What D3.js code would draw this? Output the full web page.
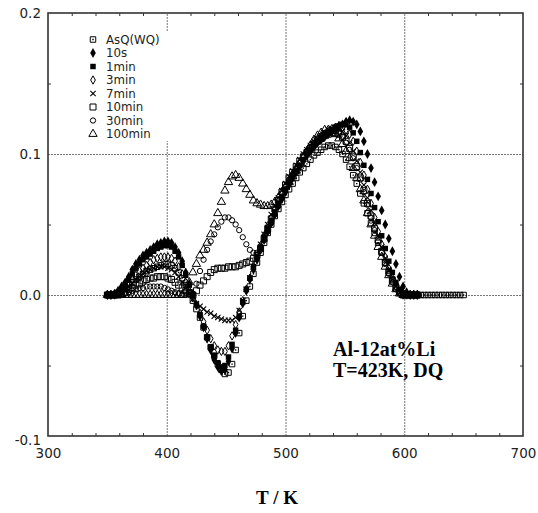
<!DOCTYPE html>
<html><head><meta charset="utf-8">
<script src="https://cdn.jsdelivr.net/npm/d3@7"></script>
<style>body{margin:0;background:#fff}svg{display:block}</style>
</head><body><svg id="chart" width="538" height="513"></svg>
<script>
// ---- data ----
const temps = [350,353,356,359,362,365,368,371,374,377,380,383,386,389,392,395,398,401,404,407,410,413,416,419,422,425,428,431,434,437,440,443,446,449,452,455,458,461,464,467,470,473,476,479,482,485,488,491,494,497,500,503,506,509,512,515,518,521,524,527,530,533,536,539,542,545,548,551,554,557,560,563,566,569,572,575,578,581,584,587,590,593,596,599,602,605,608,611,614,617,620,623,626,629,632,635,638,641,644,647,650];

const seriesNames = ["AsQ(WQ)","10s","1min","3min","7min","10min","30min","100min"];

const asqWQ = [0,0,0,.001,.003,.005,.007,.009,.011,.013,.015,.017,.018,.019,.020,.021,.022,.022,.021,.019,.016,.012,.007,.002,-.004,
 -.010,-.016,-.023,-.030,-.037,-.043,-.049,-.053,-.056,-.055,-.049,-.039,-.027,-.015,-.004,
 .006,.015,.023,.030,.037,.044,.050,.056,.061,.066,.071,.075,.079,.083,.087,.090,.093,.096,.099,.101,.103,.105,.106,.106,.105,.103,.100,.096,.091,.085,.079,.072,.065,.058,.051,.044,.037,.030,.023,.017,.011,.006,.003,.001,0,0,0,0,
 0,0,0,0,0,0,0,0,0,0,0,0,0];

const s10s = [0,0,.001,.003,.006,.009,.013,.018,.022,.025,.028,.030,.032,.034,.036,.037,.038,.038,.037,.034,.030,.024,.016,.008,.001,
 -.007,-.015,-.023,-.031,-.039,-.046,-.051,-.054,-.053,-.047,-.038,-.027,-.016,-.006,.003,
 .011,.018,.025,.032,.039,.045,.051,.057,.063,.068,.073,.078,.083,.087,.091,.095,.099,.102,.105,.108,.110,.112,.114,.116,.118,.120,.121,.123,
 .124,.123,.121,.116,.109,.100,.090,.080,.070,.060,.050,.040,.031,.022,.013,.006,.002,0,0,0];

const s1min = [0,0,0,.002,.004,.007,.011,.015,.019,.022,.025,.027,.029,.031,.033,.034,.035,.035,.034,.031,.027,.021,.014,.007,0,
 -.007,-.014,-.022,-.030,-.037,-.043,-.048,-.051,-.050,-.044,-.035,-.025,-.015,-.005,.004,
 .012,.020,.027,.034,.041,.047,.053,.059,.065,.070,.075,.080,.084,.088,.092,.096,.100,.103,.106,.109,.111,.113,.115,.117,.119,.120,.121,.121,.119,.115,
 .109,.101,.092,.082,.072,.062,.052,.042,.033,.024,.016,.009,.004,.001,0,0,0,0];

const s3min = [0,0,0,.001,.003,.005,.008,.011,.014,.017,.019,.021,.023,.025,.026,.027,.027,.027,.026,.024,.020,.015,.009,.003,-.002,
 -.007,-.013,-.019,-.025,-.031,-.036,-.039,-.040,-.040,-.036,-.029,-.021,-.012,-.004,.004,
 .012,.020,.028,.035,.042,.049,.055,.061,.067,.072,.077,.082,.086,.090,.094,.098,.101,.104,.107,.110,.112,.114,.116,.118,.119,.120,.119,.117,.114,.109,
 .102,.094,.085,.075,.065,.055,.045,.036,.027,.019,.012,.006,.002,0,0,0,0,0];

const s7min = [0,0,0,0,.002,.004,.006,.008,.011,.013,.015,.017,.018,.019,.020,.020,.020,.019,.018,.016,.013,.009,.005,.001,-.003,
 -.006,-.008,-.010,-.012,-.013,-.015,-.016,-.017,-.018,-.018,-.018,-.016,-.011,-.004,.004,
 .012,.020,.028,.036,.043,.050,.057,.063,.069,.074,.079,.084,.088,.092,.096,.100,.103,.106,.109,.111,.113,.115,.117,.118,.119,.118,.116,.113,.108,.102,
 .095,.087,.078,.069,.060,.051,.042,.034,.026,.018,.011,.006,.002,0,0,0,0,0];

const s10min = [0,0,0,0,.001,.002,.004,.005,.007,.008,.010,.011,.012,.012,.013,.013,.013,.012,.011,.009,.007,.005,.003,.001,0,
 .003,.007,.010,.013,.016,.018,.019,.019,.019,.020,.020,.020,.021,.022,.023,
 .024,.026,.028,.033,.040,.047,.054,.061,.067,.073,.078,.083,.087,.091,.095,.098,.101,.104,.107,.109,.111,.113,.114,.115,.115,.114,.112,.109,.104,.098,
 .091,.083,.074,.065,.056,.047,.039,.031,.023,.016,.010,.005,.002,0,0,0,0,0];

const s30min = [0,0,0,0,0,.001,.002,.003,.004,.005,.005,.006,.006,.006,.006,.006,.005,.004,.003,.002,.001,0,0,0,.001,
 .008,.017,.025,.032,.038,.043,.048,.052,.055,.055,.053,.050,.046,.041,.036,
 .032,.030,.030,.033,.039,.045,.051,.057,.063,.069,.075,.080,.085,.090,.094,.098,.102,.105,.108,.111,.113,.115,.116,.117,.116,.115,.112,.108,.103,.097,
 .090,.082,.073,.064,.055,.046,.038,.030,.022,.015,.009,.004,.001,0,0,0,0,0];

const s100min = [0,0,0,0,0,0,0,0,0,0,0,0,0,0,0,0,0,0,0,0,0,0,.003,.009,.016,
 .022,.028,.032,.037,.043,.050,.058,.066,.074,.080,.084,.085,.083,.079,.075,
 .071,.067,.065,.064,.063,.063,.064,.066,.069,.073,.077,.080,.084,.088,.093,.098,.102,.106,.110,.113,.115,.117,.117,.116,.114,.111,.107,.102,.097,.090,
 .083,.075,.067,.058,.050,.042,.034,.027,.020,.014,.008,.004,.001,0,0,0,0,0];

const seriesValues = [asqWQ, s10s, s1min, s3min, s7min, s10min, s30min, s100min];
const markerTypes = ["dotsq","fdiamond","fsquare","odiamond","times","osquare","ocircle","otriangle"];

const xTicks = [300,400,500,600,700];
const yTicks = [-0.1,0.0,0.1,0.2];
const xMinor = [320,340,360,380,420,440,460,480,520,540,560,580,620,640,660,680];
const yMinor = [-0.05,0.05,0.15];
const xGrid = [400,500,600];
const yGrid = [0.0,0.1];

// ---- chart ----
const svg = d3.select("#chart");
const L = 48, R = 523, T = 13, B = 436;
const x = d3.scaleLinear().domain([300,700]).range([L,R]);
const y = d3.scaleLinear().domain([-0.1,0.2]).range([B,T]);
const frameColor = "#333";
const font = "'DejaVu Sans', Verdana, sans-serif";

// grid
const gridX = svg.append("g").attr("transform",`translate(0,${B})`)
  .call(d3.axisBottom(x).tickValues(xGrid).tickSize(-(B-T)).tickFormat(""));
const gridY = svg.append("g").attr("transform",`translate(${L},0)`)
  .call(d3.axisLeft(y).tickValues(yGrid).tickSize(-(R-L)).tickFormat(""));
[gridX,gridY].forEach(g=>{
  g.select(".domain").remove();
  g.selectAll("line").attr("stroke","#777").attr("stroke-width",1).attr("stroke-dasharray","2,1");
});

// minor ticks (inward)
const mk = (axis, tr) => {
  const g = svg.append("g").attr("transform",tr).call(axis);
  g.select(".domain").remove();
  g.selectAll("line").attr("stroke",frameColor).attr("stroke-width",1);
};
mk(d3.axisBottom(x).tickValues(xMinor).tickSize(-3).tickFormat(""), `translate(0,${B})`);
mk(d3.axisTop(x).tickValues(xMinor).tickSize(-3).tickFormat(""), `translate(0,${T})`);
mk(d3.axisLeft(y).tickValues(yMinor).tickSize(-3).tickFormat(""), `translate(${L},0)`);
mk(d3.axisRight(y).tickValues(yMinor).tickSize(-3).tickFormat(""), `translate(${R},0)`);

// legend box (white background over grid)
svg.append("rect").attr("x",84).attr("y",31).attr("width",86).attr("height",110).attr("fill","#fff");

// markers
function drawMarker(g, type) {
  const s = d3.symbol();
  switch(type){
    case "dotsq":
      g.append("path").attr("d", s.type(d3.symbolSquare).size(30)()).attr("fill","none").attr("stroke","#000").attr("stroke-width",1);
      g.append("path").attr("d", s.type(d3.symbolSquare).size(2)()).attr("fill","#000");
      break;
    case "fdiamond":
      g.append("path").attr("d", s.type(d3.symbolDiamond).size(28)()).attr("fill","#000");
      break;
    case "fsquare":
      g.append("path").attr("d", s.type(d3.symbolSquare).size(30)()).attr("fill","#000");
      break;
    case "odiamond":
      g.append("path").attr("d", s.type(d3.symbolDiamond).size(20)()).attr("fill","none").attr("stroke","#000").attr("stroke-width",1);
      break;
    case "times":
      g.append("path").attr("d", s.type(d3.symbolTimes).size(20)()).attr("fill","none").attr("stroke","#000").attr("stroke-width",1.1);
      break;
    case "osquare":
      g.append("path").attr("d", s.type(d3.symbolSquare).size(36)()).attr("fill","none").attr("stroke","#000").attr("stroke-width",1);
      break;
    case "ocircle":
      g.append("path").attr("d", s.type(d3.symbolCircle).size(22)()).attr("fill","none").attr("stroke","#000").attr("stroke-width",1);
      break;
    case "otriangle":
      g.append("path").attr("d", s.type(d3.symbolTriangle).size(30)()).attr("fill","none").attr("stroke","#000").attr("stroke-width",1);
      break;
  }
}

const plot = svg.append("g");
seriesValues.forEach((vals, si) => {
  const pts = vals.map((v,i)=>({t:temps[i], v}));
  plot.append("g").selectAll("g").data(pts).join("g")
    .attr("transform", d=>`translate(${x(d.t)},${y(d.v)})`)
    .each(function(){ drawMarker(d3.select(this), markerTypes[si]); });
});

// frame
svg.append("rect").attr("x",L).attr("y",T).attr("width",R-L).attr("height",B-T)
  .attr("fill","none").attr("stroke",frameColor).attr("stroke-width",1.6);

// axis labels
const ax = svg.append("g").attr("transform",`translate(0,${B})`)
  .call(d3.axisBottom(x).tickValues(xTicks).tickSize(0).tickPadding(12).tickFormat(d3.format("d")));
const ay = svg.append("g").attr("transform",`translate(${L},0)`)
  .call(d3.axisLeft(y).tickValues(yTicks).tickSize(0).tickPadding(7).tickFormat(d=>d.toFixed(1)));
[ax,ay].forEach(g=>{ g.select(".domain").remove(); g.selectAll("text").attr("font-family",font).attr("font-size",13.5).attr("fill","#222"); });
ay.selectAll(".tick").filter(d=>d===-0.1).select("text").attr("dy","0.62em");

// legend
const leg = svg.append("g");
seriesNames.forEach((n,i)=>{
  const yy = 39.5 + i*13.5;
  const g = leg.append("g").attr("transform",`translate(93,${yy})`);
  drawMarker(g, markerTypes[i]);
  leg.append("text").attr("x",106).attr("y",yy).attr("dy","0.36em")
    .attr("font-family",font).attr("font-size",11.8).attr("fill","#222").text(n);
});

// x title
svg.append("text").attr("x",277).attr("y",504).attr("text-anchor","middle")
  .attr("font-family","'Liberation Serif','Times New Roman',serif").attr("font-weight","bold")
  .attr("font-size",19).attr("xml:space","preserve").text("T / K");

// annotation
const ann = svg.append("g").attr("font-family","'Liberation Serif','Times New Roman',serif")
  .attr("font-weight","bold").attr("font-size",20).attr("fill","#000");
ann.append("text").attr("x",333).attr("y",356).text("Al-12at%Li");
ann.append("text").attr("x",333).attr("y",377).text("T=423K, DQ");
</script>
</body></html>
